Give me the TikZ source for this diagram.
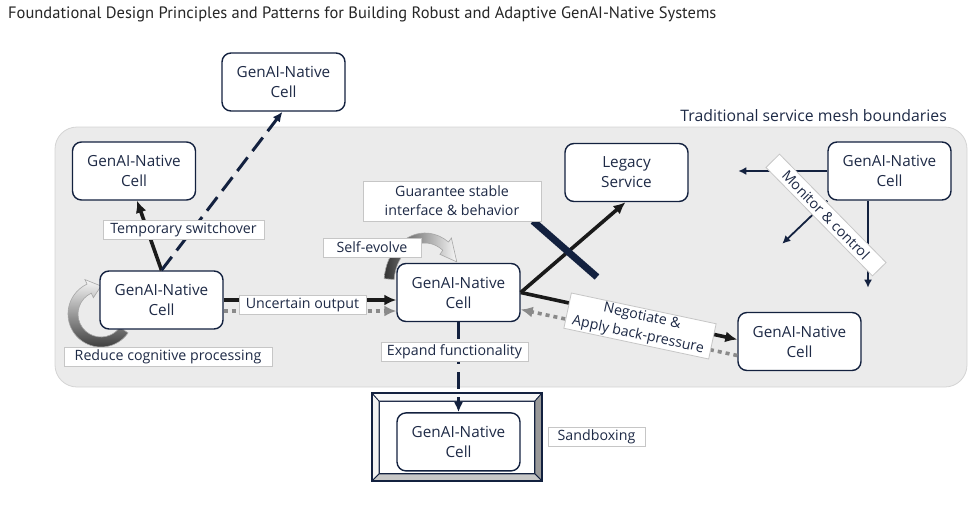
\documentclass[tikz,border=0pt]{standalone}
\usepackage{fontspec}
\setmainfont{Open Sans}
\newfontfamily\headfont{PT Sans}
\usetikzlibrary{arrows.meta,positioning,backgrounds}
\definecolor{cellNavy}{HTML}{13213F}
\definecolor{inkNavy}{HTML}{1E2A46}
\definecolor{meshFill}{HTML}{EBEBEB}
\definecolor{meshEdge}{HTML}{D4D4D4}
\definecolor{flowInk}{HTML}{1A1A1A}
\definecolor{flowGray}{HTML}{8A8A8A}
\definecolor{tagEdge}{HTML}{C6C6C6}

\begin{document}
\begin{tikzpicture}[x=1pt,y=-1pt,
  cell/.style={draw=cellNavy,line width=1.4pt,fill=white,rounded corners=9pt,minimum width=123pt,minimum height=58pt,align=center,text=inkNavy,font=\fontsize{15.3}{20}\selectfont},
  tag/.style={draw=tagEdge,line width=.8pt,fill=white,text=inkNavy,font=\fontsize{14.2}{19}\selectfont,align=center,inner xsep=4pt,inner ysep=1pt,minimum height=19pt},
  hardflow/.style={draw=flowInk,line width=3.6pt,-{Latex[length=12pt,width=11pt]}},
  softflow/.style={draw=flowGray,line width=3.6pt,dash pattern=on 4pt off 4pt,-{Latex[length=12pt,width=11pt]}},
  navydash/.style={draw=cellNavy,line width=3pt,dash pattern=on 17pt off 8pt,-{Latex[length=10pt,width=9pt]}},
  monflow/.style={draw=cellNavy,line width=1.8pt,-{Latex[length=8pt,width=8pt]}}]
  \useasboundingbox (0,0) rectangle (974,509);
  \node[anchor=base west,inner sep=0pt,text=black!85,font=\headfont\fontsize{16.5}{19}\selectfont] (title) at (8,18) {Foundational Design Principles and Patterns for Building Robust and Adaptive GenAI-Native Systems};
  \node[anchor=east,inner sep=0pt,text=inkNavy,font=\fontsize{15.8}{19}\selectfont] (meshTag) at (947,116) {Traditional service mesh boundaries};

  \node[cell] (cTop) at (283.5,82) {GenAI-Native\\Cell};
  \node[cell] (cSpare) at (134,171) {GenAI-Native\\Cell};
  \node[cell] (cLeft) at (161.5,300) {GenAI-Native\\Cell};
  \node[cell] (cCore) at (458.5,292.5) {GenAI-Native\\Cell};
  \node[cell] (legacy) at (626.5,172.5) {Legacy\\Service};
  \node[cell] (cMon) at (889.5,171) {GenAI-Native\\Cell};
  \node[cell] (cPeer) at (799.5,341.5) {GenAI-Native\\Cell};
  \node[cell,below=90pt of cCore] (cBox) {GenAI-Native\\Cell};

  \begin{scope}[on background layer]
    \draw[meshEdge,fill=meshFill,line width=.8pt,rounded corners=22pt] (55,127) rectangle (967,387);
    \filldraw[fill=white,draw=cellNavy,line width=1.2pt] (379,401) rectangle (535,474);
    \filldraw[fill=black!5,draw=cellNavy,line width=.8pt] (372,393) -- (379,401) -- (379,474) -- (372,481) -- cycle;
    \filldraw[fill=black!3,draw=cellNavy,line width=.8pt] (372,393) -- (542,393) -- (535,401) -- (379,401) -- cycle;
    \filldraw[fill=black!40,draw=cellNavy,line width=.8pt] (542,393) -- (542,481) -- (535,474) -- (535,401) -- cycle;
    \filldraw[fill=black!22,draw=cellNavy,line width=.8pt] (372,481) -- (542,481) -- (535,474) -- (379,474) -- cycle;
    \draw[cellNavy,line width=1.6pt] (372,393) rectangle (542,481);
    \shade[shift={(425,283)},left color=black!80,right color=black!3,draw=black!35,line width=.6pt]
      (185:41 and 50) arc[start angle=185,end angle=305,x radius=41,y radius=50]
      -- (305:46 and 55) -- (332:36 and 45) -- (305:26 and 35) -- (305:31 and 40)
      arc[start angle=305,end angle=185,x radius=31,y radius=40] -- cycle;
    \shade[shift={(101,314)},top color=black!3,bottom color=black!80,draw=black!35,line width=.6pt]
      (35:33) arc[start angle=35,end angle=245,radius=33]
      -- (245:38) -- (270:28) -- (245:18) -- (245:23)
      arc[start angle=245,end angle=35,radius=23] -- cycle;
  \end{scope}

  \draw[hardflow] (cLeft.north) -- ([xshift=3pt]cSpare.south);
  \draw[navydash] (cLeft.north) -- ([xshift=-1pt]cTop.south);
  \coordinate (uIn) at (cLeft.east -| cCore.west);
  \draw[hardflow] (cLeft.east) -- (uIn);
  \draw[softflow] ([yshift=-11pt]cLeft.east) -- ([yshift=-11pt]uIn);
  \draw[hardflow] (cCore.east) -- ([xshift=-1pt]legacy.south);
  \draw[line width=7pt,cellNavy] (533,221) -- (597,277);
  \draw[hardflow] (cCore.east) -- ([yshift=2pt]cPeer.west);
  \draw[softflow] ([yshift=-14pt]cPeer.west) -- ([yshift=-17pt]cCore.east);
  \draw[navydash] (cCore.south) -- (cBox.north);
  \draw[monflow] (cMon.west) -- ++(-89,0);
  \draw[monflow] (cMon.south west) -- ++(-45,43);
  \draw[monflow] ([xshift=-21.5pt]cMon.south) -- ++(0,87);

  \node[tag,minimum width=161pt] (tSwitch) at (183.5,229.5) {Temporary switchover};
  \node[tag,minimum width=208pt] (tReduce) at (168,356.5) {Reduce cognitive processing};
  \node[tag,minimum width=127pt] (tUncertain) at (302.5,305) {Uncertain output};
  \node[tag,minimum width=98pt] (tEvolve) at (372,247.5) {Self-evolve};
  \node[tag,minimum width=178pt,minimum height=40pt] (tGuard) at (452,201) {Guarantee stable\\interface \& behavior};
  \node[tag,minimum width=147pt] (tExpand) at (454.5,352) {Expand functionality};
  \node[tag,rotate=-12,minimum width=148pt,minimum height=36pt] (tNego) at (640,326) {Negotiate \&\\Apply back-pressure};
  \node[tag,rotate=-45.5,minimum width=152pt] (tMon) at (826,215) {Monitor \& control};
  \node[tag,minimum width=97pt] (tSandbox) at (596.5,436.5) {Sandboxing};
\end{tikzpicture}
\end{document}
